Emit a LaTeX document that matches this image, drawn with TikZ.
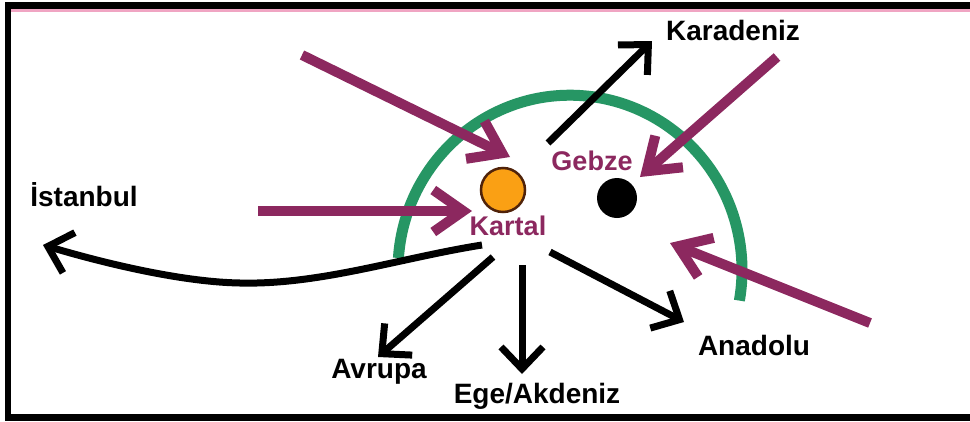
\documentclass[tikz,border=0pt]{standalone}
\usepackage{fontspec}
\setmainfont{Liberation Sans}
\usetikzlibrary{arrows.meta}
\definecolor{arcgreen}{RGB}{38,150,100}
\definecolor{plum}{RGB}{140,40,95}
\definecolor{dotorange}{RGB}{250,160,20}
\definecolor{dotrim}{RGB}{80,35,10}
\definecolor{framepink}{RGB}{240,165,195}
\begin{document}
\begin{tikzpicture}[x=1pt,y=-1pt,
  lbl/.style={font=\bfseries\fontsize{28}{30}\selectfont, anchor=base, inner sep=0pt},
  plumlbl/.style={lbl, text=plum, font=\bfseries\fontsize{27}{30}\selectfont},
  inarrow/.style={plum, line width=10pt, -{Straight Barb[length=30pt,width=42pt]}},
  outarrow/.style={black, line width=7pt, -{Straight Barb[length=22pt,width=42pt]}},
  greenarc/.style={arcgreen, line width=11pt},
  dot/.style={circle, inner sep=0pt, minimum size=#1},
]
\useasboundingbox (0,0) rectangle (970,421);
% frame
\fill[white] (0,0) rectangle (970,421);
\fill[black] (5,1.5) rectangle (970,8.5);
\fill[framepink] (11,8.5) rectangle (970,12);
\fill[black] (5,1.5) rectangle (11,421);
\fill[black] (5,414) rectangle (970,421);

% green arc
\draw[greenarc] (570,270) ++(184:172) arc[start angle=184, end angle=370, x radius=172, y radius=175];

% dots
\node[dot=44pt, fill=dotorange, draw=dotrim, line width=2.5pt] (kartaldot) at (503,190) {};
\node[dot=40pt, fill=black] (gebzedot) at (617,198) {};

% coordinates
\coordinate (p1s) at (302,55);  \coordinate (p1e) at (510,157);
\coordinate (p2s) at (258,211); \coordinate (p2e) at (472,211);
\coordinate (p3s) at (777,57);  \coordinate (p3e) at (640,177);
\coordinate (p4s) at (870,323); \coordinate (p4e) at (670,243);
\coordinate (kds) at (548,143); \coordinate (kde) at (652,41);
\coordinate (ists) at (482,245); \coordinate (istm) at (240,283); \coordinate (iste) at (43,245);
\coordinate (avs) at (493,257); \coordinate (ave) at (378,357);
\coordinate (eges) at (522,265); \coordinate (egee) at (522,374);
\coordinate (ans) at (550,252); \coordinate (ane) at (684,322);

% incoming plum arrows
\draw[inarrow] (p1s) -- (p1e);
\draw[inarrow] (p2s) -- (p2e);
\draw[inarrow] (p3s) -- (p3e);
\draw[inarrow] (p4s) -- (p4e);

% outgoing black arrows
\draw[outarrow] (kds) -- (kde);
\draw[outarrow] (ists) .. controls (400,258) and (320,285) .. (istm) .. controls (180,282) and (100,262) .. (iste);
\draw[outarrow] (avs) -- (ave);
\draw[outarrow] (eges) -- (egee);
\draw[outarrow] (ans) -- (ane);

% labels
\node[lbl] (karadeniz) at (733,40) {Karadeniz};
\node[lbl] (istanbul) at (84,206) {İstanbul};
\node[lbl] (avrupa) at (379,378) {Avrupa};
\node[lbl] (ege) at (537,403) {Ege/Akdeniz};
\node[lbl] (anadolu) at (754,355) {Anadolu};
\node[plumlbl] (gebze) at (592,170) {Gebze};
\node[plumlbl] (kartal) at (508,235) {Kartal};
\end{tikzpicture}
\end{document}
